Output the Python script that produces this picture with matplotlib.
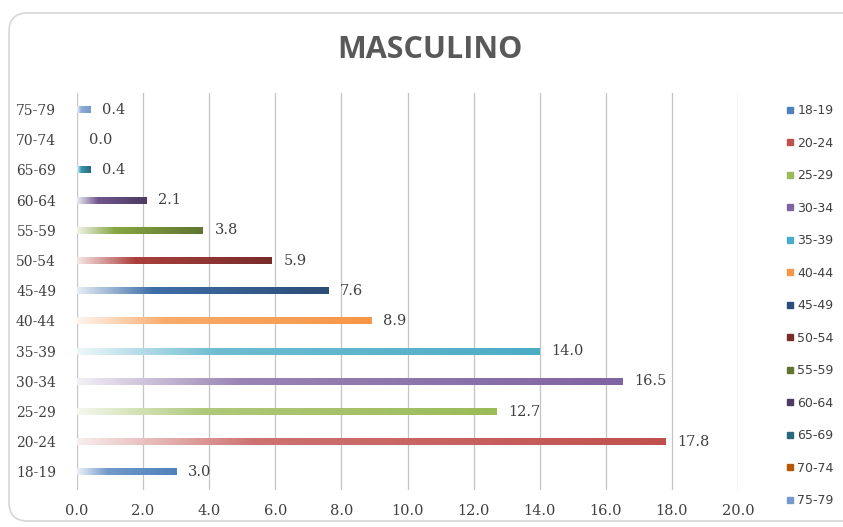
import colorsys
import numpy as np
import matplotlib
matplotlib.use("Agg")
import matplotlib.pyplot as plt
from matplotlib.colors import to_rgb
from matplotlib.patches import FancyBboxPatch
from matplotlib.lines import Line2D

categories = ["18-19", "20-24", "25-29", "30-34", "35-39", "40-44", "45-49",
              "50-54", "55-59", "60-64", "65-69", "70-74", "75-79"]
values = [3.0, 17.8, 12.7, 16.5, 14.0, 8.9, 7.6, 5.9, 3.8, 2.1, 0.4, 0.0, 0.4]
colors = ["#4F81BD", "#C0504D", "#9BBB59", "#8064A2", "#4BACC6", "#F79646",
          "#2C4D75", "#772C2A", "#5F7530", "#4D3B62", "#276A7C", "#B65708",
          "#729ACA"]
x_ticks = [0, 2, 4, 6, 8, 10, 12, 14, 16, 18, 20]
title = "MASCULINO"

W, H = 843, 527
fig = plt.figure(figsize=(W / 100, H / 100), dpi=100)
fig.patch.set_facecolor("white")

# rounded chart frame (right side runs off the canvas)
frame = FancyBboxPatch((9 / W, 6 / H), (870 - 9) / W, (514 - 6) / H,
                       boxstyle="round,pad=0,rounding_size=0.022",
                       transform=fig.transFigure, facecolor="none",
                       edgecolor="#D6D6D6", linewidth=1.2, zorder=-10,
                       mutation_aspect=W / H)
fig.patches.append(frame)

ax = fig.add_axes([77 / W, 37 / H, (738 - 77) / W, 397 / H])
ax.set_facecolor("none")

for s in ax.spines.values():
    s.set_visible(False)
for xt in x_ticks:
    ax.axvline(xt, color="#C4C4C4", linewidth=0.9, zorder=1)


def lighten(rgb, amount):
    h, l, s = colorsys.rgb_to_hls(*rgb)
    return np.array(colorsys.hls_to_rgb(h, l + (1 - l) * amount, s))


def gradient(c, n=256):
    base = np.array(to_rgb(c))
    stops = [0.0, 0.3, 1.0]
    cols = [lighten(base, 0.9), lighten(base, 0.2), base]
    pos = np.linspace(0, 1, n)
    out = np.empty((n, 3))
    for k in range(3):
        out[:, k] = np.interp(pos, stops, [col[k] for col in cols])
    return out[None, :, :]


bar_h = 0.23
for i, (v, c) in enumerate(zip(values, colors)):
    if v > 0:
        ax.imshow(gradient(c), extent=(0, v, i - bar_h / 2, i + bar_h / 2),
                  aspect="auto", interpolation="bilinear", zorder=2)
    ax.text(v + 0.36, i, f"{v:.1f}", va="center", ha="left",
            fontsize=10.5, color="#404040", family="DejaVu Serif", zorder=3)

ax.set_aspect("auto")
ax.set_xlim(0, 20)
ax.set_ylim(-0.6, 12.55)
ax.set_xticks(x_ticks)
ax.set_xticklabels([f"{x:.1f}" for x in x_ticks], family="DejaVu Serif",
                   fontsize=10.5, color="#404040")
ax.set_yticks(range(len(categories)))
ax.set_yticklabels(categories, family="DejaVu Serif", fontsize=10,
                   color="#404040")
ax.tick_params(length=0)
ax.tick_params(axis="x", pad=10)
ax.tick_params(axis="y", pad=15)

fig.text(430 / W, 1 - 50 / H, title, ha="center", va="center",
         fontsize=22, fontweight="bold", color="#595959", family="Open Sans")

handles = [Line2D([], [], marker="s", linestyle="none", markersize=5,
                  markerfacecolor=c, markeredgecolor=c) for c in colors]
leg = fig.legend(handles, categories, loc="upper left",
                 bbox_to_anchor=(781 / W, 1 - 98 / H), frameon=False,
                 handlelength=0.5, handletextpad=0.3, labelspacing=1.56,
                 borderpad=0, prop={"family": "DejaVu Sans", "size": 9})
for txt in leg.get_texts():
    txt.set_color("#404040")

fig.savefig("out.png", dpi=100, facecolor="white")
